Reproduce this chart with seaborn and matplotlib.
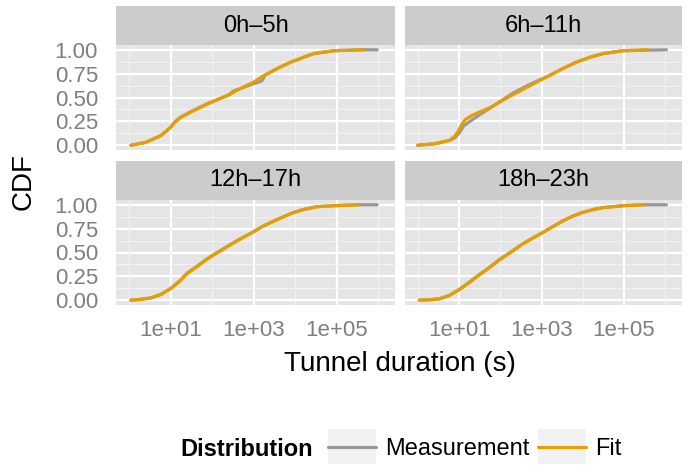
import numpy as np
import pandas as pd
import seaborn as sns
import matplotlib.pyplot as plt
from matplotlib.lines import Line2D
from matplotlib.patches import Rectangle
from matplotlib.legend_handler import HandlerLine2D
from matplotlib.ticker import NullFormatter

sns.set_style("darkgrid", {"axes.facecolor": "#E5E5E5", "grid.color": "white",
                           "text.color": "black"})
plt.rcParams['font.family'] = ['Liberation Sans', 'DejaVu Sans']

# %%
# values: tunnel duration (s) vs CDF, per time-of-day bin
hours = ["0h\u20135h", "6h\u201311h", "12h\u201317h", "18h\u201323h"]
x_ticks = [10, 1000, 100000]
x_tick_labels = ["1e+01", "1e+03", "1e+05"]
y_ticks = [0.0, 0.25, 0.5, 0.75, 1.0]
y_tick_labels = ["0.00", "0.25", "0.50", "0.75", "1.00"]

# 0h-5h
meas_a_x = [1.10, 2.51, 5.75, 7.94, 10, 12.6, 17.4, 31.6, 75.9, 158, 263, 316, 562,
            1000, 1585, 1905, 3981, 7762, 15849, 28184, 87096, 398107, 954993]
meas_a_y = [0.0, 0.03, 0.10, 0.15, 0.19, 0.245, 0.295, 0.355, 0.435, 0.49, 0.53, 0.565, 0.605,
            0.645, 0.675, 0.735, 0.81, 0.87, 0.92, 0.96, 0.99, 1.0, 1.0]
fit_a_x = [1.10, 2.51, 5.75, 7.94, 10, 12.6, 17.4, 31.6, 75.9, 158, 282, 562,
           1000, 1778, 3981, 7762, 15849, 28184, 87096, 457088]
fit_a_y = [0.0, 0.03, 0.10, 0.15, 0.19, 0.24, 0.29, 0.35, 0.43, 0.49, 0.54, 0.61,
           0.66, 0.73, 0.81, 0.87, 0.92, 0.96, 0.99, 1.0]

# 6h-11h
meas_b_x = [0.977, 2.51, 5.75, 7.94, 10, 12.6, 17.4, 31.6, 53.7, 100, 200, 501,
            1549, 3162, 6918, 15849, 30903, 93325, 1071519]
meas_b_y = [0.0, 0.015, 0.05, 0.08, 0.13, 0.20, 0.245, 0.32, 0.385, 0.46, 0.545, 0.635,
            0.73, 0.80, 0.87, 0.925, 0.96, 0.99, 1.0]
fit_b_x = [0.977, 2.51, 5.75, 7.59, 9.55, 11.5, 14.1, 20.0, 31.6, 53.7, 166, 501,
           1549, 3162, 6918, 15849, 30903, 93325, 380189]
fit_b_y = [0.0, 0.015, 0.05, 0.09, 0.15, 0.22, 0.27, 0.31, 0.35, 0.39, 0.51, 0.62,
           0.73, 0.80, 0.87, 0.925, 0.96, 0.99, 1.0]

# 12h-17h
meas_c_x = [1.09, 2.0, 3.31, 5.75, 10, 15.8, 25.1, 39.8, 75.9, 126, 234, 398,
            933, 1585, 3090, 5623, 9333, 15849, 33884, 87096, 346737, 954993]
meas_c_y = [0.0, 0.01, 0.024, 0.06, 0.125, 0.195, 0.285, 0.345, 0.435, 0.495, 0.565, 0.625,
            0.71, 0.77, 0.83, 0.88, 0.92, 0.95, 0.98, 0.99, 1.0, 1.0]
fit_c_x = [1.09, 2.0, 3.31, 5.75, 10, 15.8, 25.1, 39.8, 75.9, 126, 234, 398,
           933, 1585, 3090, 5623, 9333, 15849, 33884, 87096, 346737]
fit_c_y = [0.0, 0.01, 0.024, 0.06, 0.12, 0.19, 0.28, 0.34, 0.43, 0.49, 0.56, 0.62,
           0.71, 0.77, 0.83, 0.88, 0.92, 0.95, 0.98, 0.99, 1.0]

# 18h-23h
meas_d_x = [1.07, 2.0, 3.24, 5.75, 10, 15.8, 25.7, 50.1, 93.3, 178, 347, 631,
            1072, 1862, 3236, 5623, 10000, 17783, 30903, 93325, 316228, 1071519]
meas_d_y = [0.0, 0.006, 0.014, 0.05, 0.115, 0.175, 0.245, 0.335, 0.425, 0.505, 0.59, 0.655,
            0.71, 0.77, 0.83, 0.88, 0.92, 0.95, 0.97, 0.99, 1.0, 1.0]
fit_d_x = [1.07, 2.0, 3.24, 5.75, 10, 15.8, 25.7, 50.1, 93.3, 178, 347, 631,
           1072, 1862, 3236, 5623, 10000, 17783, 30903, 93325, 316228]
fit_d_y = [0.0, 0.006, 0.014, 0.05, 0.11, 0.17, 0.24, 0.33, 0.42, 0.50, 0.59, 0.655,
           0.71, 0.77, 0.83, 0.88, 0.92, 0.95, 0.97, 0.99, 1.0]

series = [
    (hours[0], meas_a_x, meas_a_y, fit_a_x, fit_a_y),
    (hours[1], meas_b_x, meas_b_y, fit_b_x, fit_b_y),
    (hours[2], meas_c_x, meas_c_y, fit_c_x, fit_c_y),
    (hours[3], meas_d_x, meas_d_y, fit_d_x, fit_d_y),
]

frames = []
for h, mx, my, fx, fy in series:
    frames.append(pd.DataFrame({"duration": mx, "cdf": my, "Distribution": "Measurement", "hours": h}))
    frames.append(pd.DataFrame({"duration": fx, "cdf": fy, "Distribution": "Fit", "hours": h}))
df = pd.concat(frames, ignore_index=True)

palette = {"Measurement": "#999999", "Fit": "#E69F00"}

# %%
W, H = 699, 466
fig = plt.figure(figsize=(W / 100, H / 100), dpi=100)


def px_axes(x0, y0, x1, y1):
    return fig.add_axes([x0 / W, 1 - y1 / H, (x1 - x0) / W, (y1 - y0) / H])


# panel boxes in pixels (left, top, right, bottom)
cols = [(116, 395), (405, 682)]
rows = [(6, 45, 150), (161, 200, 305)]
grey50 = "#7F7F7F"

for i, h in enumerate(hours):
    r, c = divmod(i, 2)
    x0, x1 = cols[c]
    st, pt, pb = rows[r]

    strip = px_axes(x0, st, x1, pt)
    strip.set_facecolor("#CCCCCC")
    strip.grid(False)
    strip.set_xticks([])
    strip.set_yticks([])
    for s in strip.spines.values():
        s.set_visible(False)
    strip.text(0.5, 0.5, h, ha="center", va="center", fontsize=17, color="black",
               transform=strip.transAxes)

    ax = px_axes(x0, pt, x1, pb)
    sub = df[df["hours"] == h]
    sns.lineplot(data=sub, x="duration", y="cdf", hue="Distribution",
                 hue_order=["Measurement", "Fit"], palette=palette,
                 linewidth=2.3, legend=False, ax=ax, estimator=None, sort=True)
    ax.set_xscale("log")
    ax.set_xlim(0.48, 2.57e6)
    ax.set_ylim(-0.05, 1.05)
    ax.set_xlabel("")
    ax.set_ylabel("")
    for s in ax.spines.values():
        s.set_visible(False)

    ax.set_xticks(x_ticks)
    ax.set_xticks([1, 100, 1e4, 1e6], minor=True)
    ax.xaxis.set_minor_formatter(NullFormatter())
    ax.set_yticks(y_ticks)
    ax.set_yticks([0.125, 0.375, 0.625, 0.875], minor=True)
    ax.yaxis.set_minor_formatter(NullFormatter())
    ax.grid(True, which="major", color="white", linewidth=1.6)
    ax.grid(True, which="minor", color="#F2F2F2", linewidth=0.8)
    ax.set_axisbelow(True)
    ax.tick_params(which="minor", length=0)
    ax.tick_params(which="major", color=grey50, labelcolor=grey50, labelsize=16,
                   length=8, width=1.8)
    ax.tick_params(axis="y", pad=5)
    ax.tick_params(axis="x", pad=3)

    if r == 1:
        ax.set_xticklabels(x_tick_labels)
    else:
        ax.tick_params(axis="x", length=0, labelbottom=False)
    if c == 0:
        ax.set_yticklabels(y_tick_labels)
    else:
        ax.tick_params(axis="y", length=0, labelleft=False)

fig.text(24 / W, 1 - 182 / H, "CDF", rotation=90, ha="center", va="center",
         fontsize=20, color="black")
fig.text(400 / W, 1 - 364 / H, "Tunnel duration (s)", ha="center", va="center",
         fontsize=20, color="black")


# legend keys with the grey95 background
class KeyBox(HandlerLine2D):
    def create_artists(self, legend, orig_handle, xdescent, ydescent, width, height,
                       fontsize, trans):
        box_h = 25.2
        cy = height / 2 - ydescent
        bg = Rectangle((-xdescent, cy - box_h / 2), width, box_h, facecolor="#F2F2F2",
                       edgecolor="none", transform=trans)
        arts = super().create_artists(legend, orig_handle, xdescent, ydescent, width,
                                      height, fontsize, trans)
        return [bg] + list(arts)


handles = [Line2D([], [], color=palette["Measurement"], linewidth=2.3),
           Line2D([], [], color=palette["Fit"], linewidth=2.3)]
fig.text(180 / W, 1 - 450 / H, "Distribution", fontweight="bold", fontsize=17,
         ha="left", va="center", color="black")
leg = fig.legend(handles, ["Measurement", "Fit"], ncol=2, loc="center left",
                 bbox_to_anchor=(328 / W, 1 - 449 / H), frameon=False, fontsize=17,
                 handlelength=2.03, handletextpad=0.38, columnspacing=0.38,
                 borderpad=0, borderaxespad=0,
                 handler_map={Line2D: KeyBox()})
for t in leg.get_texts():
    t.set_color("black")

fig.savefig("out.png", dpi=100)
